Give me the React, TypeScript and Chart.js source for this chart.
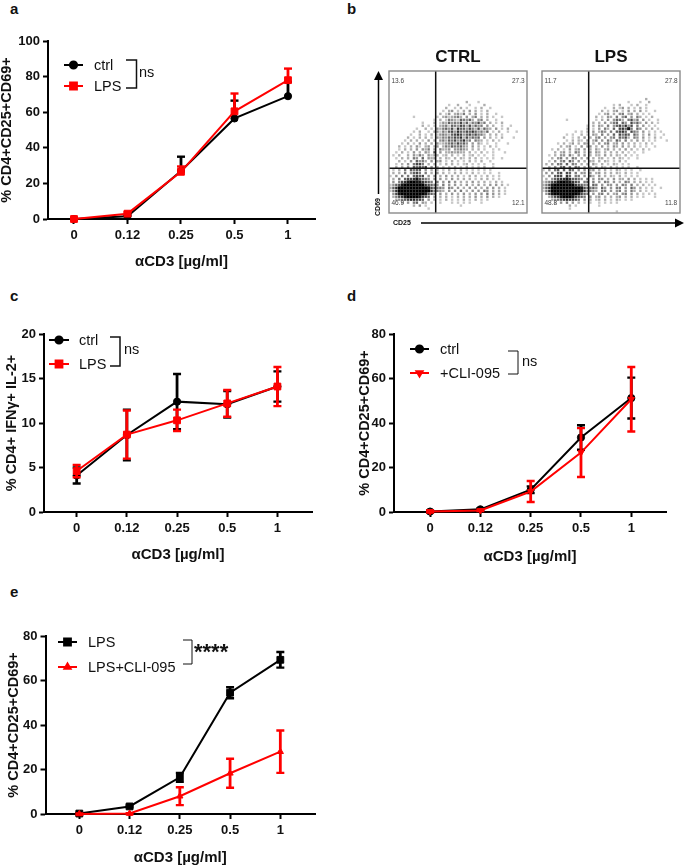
import React, { useEffect, useRef } from "react";
import { Chart, registerables } from "chart.js";
import { drawPoint } from "chart.js/helpers";

Chart.register(...registerables);

const FONT = "'Liberation Sans', Arial, sans-serif";
const doses = ["0", "0.12", "0.25", "0.5", "1"];
const axisTitleX = "αCD3 [µg/ml]";

// Panel a
const aCtrl = [0, 1.5, 27, 56.5, 69];
const aCtrlUp = [0.5, 0.8, 8, 10, 8];
const aLps = [0, 3, 26.5, 60.5, 78];
const aLpsUp = [0.5, 0.8, 3, 10, 6.5];
const aNone = [0, 0, 0, 0, 0];

// Panel c
const cCtrl = [4.1, 8.65, 12.4, 12.1, 14.1];
const cCtrlErr = [0.9, 2.85, 3.1, 1.5, 1.7];
const cLps = [4.6, 8.7, 10.3, 12.2, 14.1];
const cLpsErr = [0.7, 2.7, 1.2, 1.5, 2.2];

// Panel d
const dCtrl = [0.2, 1.2, 10, 33.5, 51.2];
const dCtrlErr = [0.5, 0.5, 1.5, 5.5, 9.2];
const dCli = [0.2, 0.7, 9.2, 26.7, 50.7];
const dCliErr = [0.5, 0.3, 4.7, 11, 14.5];

// Panel e
const eLps = [0.2, 3.4, 16.5, 54.5, 69.3];
const eLpsErr = [0.3, 0.4, 2, 2.5, 3.5];
const eCli = [0, 0.2, 8, 18.3, 28];
const eCliErr = [0.2, 0.2, 4, 6.5, 9.5];

// Panel b: event density, top row first, "." is empty
const ctrlDensity = [
  "", "", "", "", "", "", "", "", "", "",
  "..........................2...1",
  "....................1..2...1....2",
  "...................2..1.2.1..1.2..1",
  "..................1.23.1.2.3.2.1.2",
  ".................2.13.2314.2.3.1.2..1",
  "........1.......1.2312342.3.24.2.2.1..1",
  "...............1.2.1432154352.34.2..1",
  "...........1...2.1325343625143624.2.1.2",
  "...........2.1.1.234154365262534.3.2..1..1",
  ".........1..2.1.3245361755364261532.3.1.2",
  "........1.2..1.2314256375465753425.1.2..1..1",
  ".......1..2.1.2.13432567635646442.2.2.1",
  "......2.1.2.2.1.324354657263545.3.2.1.2...1",
  ".....1.2.2.1.3.2.34254635734.432.1.2.1",
  "....1.2.1.3.2.2.31234536453.3.31.1..1...1",
  "...2.1.2.31.23.23.243544532.3.2.1.2.1",
  "...1.2.2.3.324.3.4223.33432.2.2.1..1.1",
  "..1.2.1.3.2.32.6.3.2232322.2.1.2.1.1...1",
  ".1.2..2.3142.3132.12.2.1.2.12.1.1..1",
  "..1.2.2.43.5.323.2.21.2.21.2.2.1.1.1..1",
  "...2.1.3.5342.3.23.1.2.1.1.2.1.2..1",
  "..1.2.3.4664.2.2.1.2.2.1.12.1.1.1..1",
  "..2.2.3.54546.3.2.1.1.2.1.2.1.1.2..1",
  ".1.2.4.5455.3.2.2.1.2.1.2.1.1.1.1.1",
  ".2.2.4.3564.4.2.3.2.1.2.2.1.2.1.1.1..1",
  "1.3.4.4.5656.3.3.2.3.2.2.1.2.2.1.2.1.1",
  ".2.4.566786543.3.3.2.3.2.2.2.1.2.2.1.1",
  ".3.467899887654.4.3.4.3.2.2.3.2.2.1.2.1",
  "13568999999976543.4.3.3.2.3.2.3.2.3.3.2.1",
  "2579999999999865443.43.3.2.3.3.2.3.3.2.1",
  "1479999999999974432.3.3.4.2.3.3.43.2.2.1",
  ".368999999998654.3.2.3.2.3.2.3.3.4.3.2.1",
  ".2467899998765.3.2.2.1.2.2.2.3.2.3.2.1",
  "..2345677665.3.2.1.2.1.1.2.1.2.1.1",
  "....2.3.45.32.1..1...1.1.1.1...1",
  "........2.3.1...........1",
  ".............1",
  "",
];
const lpsDensity = [
  "", "", "", "", "", "", "", "", "",
  "...................................2",
  ".............................1...1..2",
  "........................1.2...1.2..1",
  ".....................1..2.13.2.1.2.1",
  "....................2.1.23.1.3.2.3.1..1",
  "...................1.23.2.34.23.2.1.1",
  "..................2.1.32.4.35.3.42.1.2",
  "........1.........1.2.3.3542.4624.3.1..1",
  ".................2.2.3.245.53.6352.3.2.1",
  "...............1.2.32.4.3564736.4.3.1.1",
  "...............2.1.3.42.5.67584.53.2.2.1",
  "...........1.1.2.3.243.4.5675.643.3.1.1.1",
  "........1.1..2.1.32.4.3.5.6465.53.2.3.1..1",
  ".......2..1.2.3.2.34.3.34.5462.43.3.1.2.1",
  "........1.2.21.3.24.3.42.53.4.2.3.2.1.1...1",
  ".....1.2.13.2.33.2.3.34.23.3.2.2.1.2.1",
  "......2.23.1.3.33.2.3.2.32.3.2.2.1.1..1",
  "...1.2.1.3.23.3.2.31.23.2.2.3.2.1.2.1",
  "....2.23.2.43.2.3.32.2.2.2.2.1.1..1",
  "..1.2.33.41.3.3.2.22.3.2.21.2.1.1",
  "...2.34.3.43.2.3.2.22.1.2.21.1..1",
  "..1.3.34.53.3.2.22.2.21.1.2.1",
  ".2.3.44.5.43.2.2.31.2.1.21.1.1",
  "..2.3.45.4.43.2.2.2.21.2.1.1.1..1",
  "1.3.45.5.54.3.3.23.2.2.1.21.1.1..1",
  ".3.4.56.65.4.33.3.23.2.2.21.2.1.1",
  "1.3.566.75.44.3.42.3.2.21.2.1.1.1",
  ".2.35677875543.4.3.33.2.3.22.3.2.1.1.1",
  "1346789988765.45.4.3.43.3.2.43.2.2.1.1",
  "2468999999976544.54.3.33.3.43.4.2.2.1.1",
  "2579999999999865453.53.3.44.3.53.2.1.1..1",
  "1479999999999874432.44.3.34.3.42.2.1.1",
  ".368999999998654.3.34.3.23.34.3.2.1.1.1",
  "..2467899987654.3.23.2.2.23.2.2.1.1...1",
  "...2345676654.3.2.12.2.1.21.1.1",
  "....1.3.4.3.2.1.1..1.1.1.1",
  ".........2.1.......1",
  ".........1",
  ".........................1",
];
const ctrlQuadrants = ["13.6", "27.3", "46.9", "12.1"];
const lpsQuadrants = ["11.7", "27.8", "48.8", "11.8"];

const errorBars = {
  id: "errorBars",
  beforeDatasetDraw(chart: any, args: any) {
    const ds = chart.data.datasets[args.index];
    const { x, y } = chart.scales;
    const { ctx } = chart;
    ctx.save();
    ctx.strokeStyle = ds.borderColor;
    ds.values.forEach((v: number, i: number) => {
      const px = x.getPixelForValue(i);
      const hi = y.getPixelForValue(v + ds.errUp[i]);
      const lo = y.getPixelForValue(v - ds.errDown[i]);
      ctx.lineWidth = 2.8;
      ctx.beginPath();
      ctx.moveTo(px, hi);
      ctx.lineTo(px, lo);
      ctx.stroke();
      ctx.lineWidth = 2.4;
      ctx.beginPath();
      ctx.moveTo(px - 4, hi);
      ctx.lineTo(px + 4, hi);
      if (ds.errDown[i] > 0) {
        ctx.moveTo(px - 4, lo);
        ctx.lineTo(px + 4, lo);
      }
      ctx.stroke();
    });
    ctx.restore();
  },
};

const panelKey = {
  id: "panelKey",
  afterDatasetsDraw(chart: any, _a: any, o: any) {
    const { ctx } = chart;
    ctx.save();
    chart.data.datasets.forEach((ds: any, i: number) => {
      const y = o.ys[i] - o.top;
      ctx.strokeStyle = ds.borderColor;
      ctx.fillStyle = ds.borderColor;
      ctx.lineWidth = 2;
      ctx.beginPath();
      ctx.moveTo(o.line[0] - o.left, y);
      ctx.lineTo(o.line[1] - o.left, y);
      ctx.stroke();
      drawPoint(
        ctx,
        { pointStyle: ds.pointStyle, rotation: ds.pointRotation || 0, radius: ds.pointRadius, borderWidth: 1 },
        (o.line[0] + o.line[1]) / 2 - o.left,
        y
      );
      ctx.fillStyle = "#111";
      ctx.font = `14.5px ${FONT}`;
      ctx.textBaseline = "middle";
      ctx.fillText(ds.label, o.textX - o.left, y + 0.5);
    });
    const b = o.bracket;
    ctx.strokeStyle = "#111";
    ctx.lineWidth = b.w;
    ctx.beginPath();
    ctx.moveTo(b.x0 - o.left, b.y0 - o.top);
    ctx.lineTo(b.x1 - o.left, b.y0 - o.top);
    ctx.lineTo(b.x1 - o.left, b.y1 - o.top);
    ctx.lineTo(b.x0 - o.left, b.y1 - o.top);
    ctx.stroke();
    ctx.fillStyle = "#111";
    ctx.font = o.note.font;
    ctx.textBaseline = "middle";
    ctx.fillText(o.note.text, o.note.x - o.left, o.note.y - o.top);
    ctx.restore();
  },
};

const plotFrame = {
  id: "plotFrame",
  afterDatasetsDraw(chart: any, _a: any, o: any) {
    const { ctx, chartArea: c } = chart;
    ctx.save();
    ctx.strokeStyle = "#8a8a8a";
    ctx.lineWidth = 1.4;
    ctx.strokeRect(c.left, c.top, c.right - c.left, c.bottom - c.top);
    ctx.fillStyle = "#444";
    ctx.font = `6.5px ${FONT}`;
    ctx.textBaseline = "middle";
    ctx.fillText(o.labels[0], c.left + 2.5, c.top + 10);
    ctx.fillText(o.labels[1], c.right - 15, c.top + 10);
    ctx.fillText(o.labels[2], c.left + 2.5, c.bottom - 9.5);
    ctx.fillText(o.labels[3], c.right - 15, c.bottom - 9.5);
    ctx.restore();
  },
};

function lineSeries(label: string, data: number[], up: number[], down: number[], color: string, style: string, radius: number, rot: number, order: number) {
  return {
    label,
    data: data.map((v, i) => ({ x: i, y: v })),
    values: data,
    errUp: up,
    errDown: down,
    borderColor: color,
    backgroundColor: color,
    pointBackgroundColor: color,
    pointBorderColor: color,
    pointBorderWidth: 1,
    pointStyle: style,
    pointRadius: radius,
    pointRotation: rot,
    borderWidth: 2,
    tension: 0,
    clip: false,
    order,
  };
}

function makeLineChart(canvas: HTMLCanvasElement, p: any) {
  const W = canvas.width;
  const H = canvas.height;
  return new Chart(canvas, {
    type: "line",
    data: { datasets: p.series },
    plugins: [errorBars, panelKey],
    options: {
      responsive: false,
      animation: false,
      layout: { padding: { top: p.area.t - p.top, right: p.left + W - p.area.r, left: 0, bottom: 0 } },
      plugins: {
        legend: { display: false },
        tooltip: { enabled: false },
        panelKey: { ...p.key, left: p.left, top: p.top },
      } as any,
      scales: {
        x: {
          type: "linear",
          min: p.xMin,
          max: p.xMax,
          afterBuildTicks: (s: any) => {
            s.ticks = doses.map((_, i) => ({ value: i }));
          },
          afterFit: (s: any) => {
            s.height = p.top + H - p.area.b;
          },
          border: { color: "#000", width: 2 },
          grid: { drawOnChartArea: false, drawTicks: true, tickLength: 5, tickWidth: 2, tickColor: "#000" },
          ticks: {
            color: "#111",
            padding: 4,
            autoSkip: false,
            maxRotation: 0,
            font: { family: FONT, size: 13, weight: "bold" },
            callback: (v: any) => doses[v],
          },
          title: { display: true, text: axisTitleX, color: "#111", padding: 0, font: { family: FONT, size: 15, weight: "bold" } },
        },
        y: {
          min: 0,
          max: p.yMax,
          afterFit: (s: any) => {
            s.width = p.area.l - p.left;
          },
          border: { color: "#000", width: 2 },
          grid: { drawOnChartArea: false, drawTicks: true, tickLength: 5, tickWidth: 2, tickColor: "#000" },
          ticks: { color: "#111", padding: 3, stepSize: p.yStep, font: { family: FONT, size: 13, weight: "bold" } },
          title: { display: true, text: p.yTitle, color: "#111", padding: 0, font: { family: FONT, size: 14.5, weight: "bold" } },
        },
      },
    } as any,
  });
}

function makeFlowChart(canvas: HTMLCanvasElement, p: any) {
  const points: { x: number; y: number; d: number }[] = [];
  p.grid.forEach((row: string, r: number) => {
    row.split("").forEach((c: string, col: number) => {
      const d = parseInt(c, 10);
      if (d > 0) points.push({ x: col + 0.5, y: r + 0.5, d });
    });
  });
  return new Chart(canvas, {
    type: "scatter",
    data: {
      datasets: [
        {
          data: points,
          pointStyle: "rect",
          pointRadius: (c: any) => (c.raw && c.raw.d >= 8 ? 2.15 : 1.7),
          pointBorderWidth: 0,
          pointBackgroundColor: (c: any) => `rgba(0,0,0,${c.raw ? Math.min(1, 0.12 + c.raw.d / 10) : 0})`,
        } as any,
        {
          data: [{ x: p.qx, y: 0 }, { x: p.qx, y: 48 }],
          showLine: true,
          borderColor: "#111",
          borderWidth: 1.5,
          pointRadius: 0,
        },
        {
          data: [{ x: 0, y: p.qy }, { x: 47, y: p.qy }],
          showLine: true,
          borderColor: "#111",
          borderWidth: 1.5,
          pointRadius: 0,
        },
      ],
    },
    plugins: [plotFrame],
    options: {
      responsive: false,
      animation: false,
      layout: { padding: { left: 2, right: 2, top: 0, bottom: 2 } },
      plugins: {
        legend: { display: false },
        tooltip: { enabled: false },
        title: {
          display: true,
          text: p.title,
          color: "#111",
          padding: { top: 0, bottom: 3.6 },
          font: { family: FONT, size: 17, weight: "bold" },
        },
        plotFrame: { labels: p.quadrants },
      } as any,
      scales: {
        x: { type: "linear", min: 0, max: 47, display: false },
        y: { type: "linear", min: 0, max: 48, reverse: true, display: false },
      },
    } as any,
  });
}

const RED = "#ff0000";
const panels = [
  {
    left: -2, top: 20, w: 342, h: 251,
    area: { l: 48, r: 315, t: 41, b: 219 },
    xMin: -0.486, xMax: 4.505, yMax: 100, yStep: 20,
    yTitle: "% CD4+CD25+CD69+",
    series: [
      lineSeries("ctrl", aCtrl, aCtrlUp, aNone, "#000", "circle", 3.6, 0, 2),
      lineSeries("LPS", aLps, aLpsUp, aNone, RED, "rect", 4.8, 0, 1),
    ],
    key: {
      line: [64, 83], ys: [65, 86], textX: 94,
      bracket: { x0: 126, x1: 136.5, y0: 60, y1: 88, w: 1.5 },
      note: { text: "ns", x: 139, y: 73, font: `14.5px ${FONT}` },
    },
  },
  {
    left: 3, top: 310, w: 337, h: 254,
    area: { l: 44, r: 312, t: 334, b: 512 },
    xMin: -0.651, xMax: 4.689, yMax: 20, yStep: 5,
    yTitle: "% CD4+ IFNγ+ IL-2+",
    series: [
      lineSeries("ctrl", cCtrl, cCtrlErr, cCtrlErr, "#000", "circle", 3.6, 0, 2),
      lineSeries("LPS", cLps, cLpsErr, cLpsErr, RED, "rect", 4.8, 0, 1),
    ],
    key: {
      line: [49, 69], ys: [340, 364], textX: 79,
      bracket: { x0: 110, x1: 120, y0: 337, y1: 366, w: 1.5 },
      note: { text: "ns", x: 124, y: 350, font: `14.5px ${FONT}` },
    },
  },
  {
    left: 356, top: 310, w: 329, h: 256,
    area: { l: 394, r: 666, t: 334, b: 512 },
    xMin: -0.717, xMax: 4.69, yMax: 80, yStep: 20,
    yTitle: "% CD4+CD25+CD69+",
    series: [
      lineSeries("ctrl", dCtrl, dCtrlErr, dCtrlErr, "#000", "circle", 3.6, 0, 2),
      lineSeries("+CLI-095", dCli, dCliErr, dCliErr, RED, "triangle", 3.6, 180, 1),
    ],
    key: {
      line: [410, 429], ys: [349, 373], textX: 440,
      bracket: { x0: 508, x1: 518, y0: 351, y1: 374, w: 1 },
      note: { text: "ns", x: 522, y: 362, font: `14.5px ${FONT}` },
    },
  },
  {
    left: 5, top: 612, w: 335, h: 255,
    area: { l: 45.5, r: 315, t: 636, b: 814 },
    xMin: -0.673, xMax: 4.69, yMax: 80, yStep: 20,
    yTitle: "% CD4+CD25+CD69+",
    series: [
      lineSeries("LPS", eLps, eLpsErr, eLpsErr, "#000", "rect", 4.8, 0, 2),
      lineSeries("LPS+CLI-095", eCli, eCliErr, eCliErr, RED, "triangle", 3.6, 0, 1),
    ],
    key: {
      line: [58, 77], ys: [642, 667], textX: 88,
      bracket: { x0: 183, x1: 192, y0: 640, y1: 664, w: 1 },
      note: { text: "****", x: 194, y: 653, font: `bold 22px ${FONT}` },
    },
  },
];

const flows = [
  { left: 385, top: 47, w: 146, h: 170, title: "CTRL", grid: ctrlDensity, quadrants: ctrlQuadrants, qx: 15.9, qy: 32.9 },
  { left: 538, top: 47, w: 146, h: 170, title: "LPS", grid: lpsDensity, quadrants: lpsQuadrants, qx: 15.9, qy: 32.9 },
];

const letters = [
  { t: "a", x: 10, y: 0 },
  { t: "b", x: 347, y: 0 },
  { t: "c", x: 10, y: 287 },
  { t: "d", x: 347, y: 287 },
  { t: "e", x: 10, y: 583 },
];

export default function App() {
  const lineRefs = useRef<(HTMLCanvasElement | null)[]>([]);
  const flowRefs = useRef<(HTMLCanvasElement | null)[]>([]);
  useEffect(() => {
    const charts = [
      ...panels.map((p, i) => makeLineChart(lineRefs.current[i]!, p)),
      ...flows.map((p, i) => makeFlowChart(flowRefs.current[i]!, p)),
    ];
    return () => charts.forEach((c) => c.destroy());
  }, []);
  const abs: React.CSSProperties = { position: "absolute", display: "block" };
  return (
    <div style={{ position: "absolute", left: 0, top: 0, width: 685, height: 865, overflow: "hidden", background: "#fff", fontFamily: FONT, color: "#111" }}>
      {panels.map((p, i) => (
        <canvas key={i} ref={(el) => { lineRefs.current[i] = el; }} width={p.w} height={p.h} style={{ ...abs, left: p.left, top: p.top, width: p.w, height: p.h }} />
      ))}
      {flows.map((p, i) => (
        <canvas key={i} ref={(el) => { flowRefs.current[i] = el; }} width={p.w} height={p.h} style={{ ...abs, left: p.left, top: p.top, width: p.w, height: p.h }} />
      ))}
      {letters.map((l) => (
        <div key={l.t} style={{ position: "absolute", left: l.x, top: l.y, fontSize: 15, fontWeight: "bold", lineHeight: "17px" }}>{l.t}</div>
      ))}
      <svg width={685} height={865} style={{ ...abs, left: 0, top: 0, pointerEvents: "none" }}>
        <line x1={378.5} y1={194} x2={378.5} y2={78} stroke="#000" strokeWidth={1.5} />
        <polygon points="378.5,71 374,80 383,80" fill="#000" />
        <line x1={421} y1={223} x2={676} y2={223} stroke="#000" strokeWidth={1.5} />
        <polygon points="684,223 675,218.5 675,227.5" fill="#000" />
      </svg>
      <div style={{ position: "absolute", left: 393, top: 218, fontSize: 7, fontWeight: "bold", lineHeight: "10px" }}>CD25</div>
      <div style={{ position: "absolute", left: 366, top: 202, width: 24, textAlign: "center", fontSize: 7, fontWeight: "bold", lineHeight: "10px", transform: "rotate(-90deg)" }}>CD69</div>
    </div>
  );
}
